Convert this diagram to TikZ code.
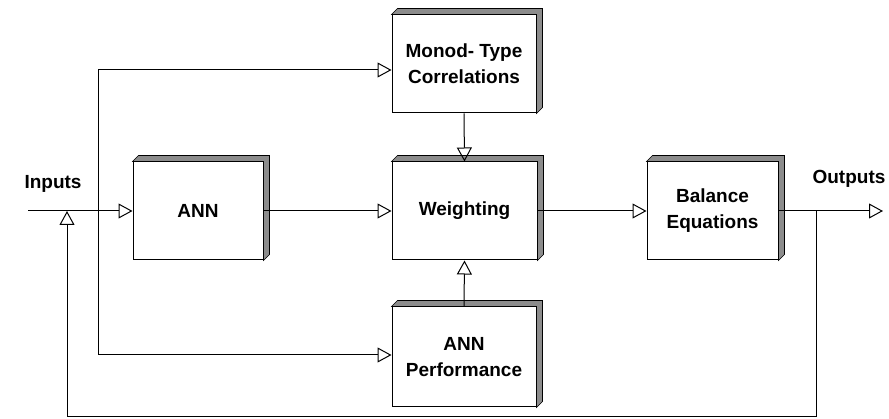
\documentclass[tikz,border=0pt]{standalone}
\usepackage{fontspec}
\setmainfont{Liberation Sans}
\usetikzlibrary{arrows.meta}

\begin{document}
\begin{tikzpicture}[x=1pt, y=-1pt, line width=1pt,
    every node/.style={font=\fontsize{19}{26}\selectfont\bfseries, align=center},
    block/.style={draw, fill=white, inner sep=0pt},
    depth/.style={draw, line width=0.6pt, fill=black!45},
    flow/.style={-{Triangle[open, length=14pt, width=15pt, line width=1pt]}}]
        \useasboundingbox (0,0) rectangle (889,419);
        % Define the blocks
        \node[block, minimum width=144, minimum height=98] (monod) at (464,64) {Monod- Type\\Correlations};
        \node[block, minimum width=130, minimum height=98] (ann) at (198,211) {ANN};
        \node[block, minimum width=145, minimum height=98] (weight) at (464.5,211) {Weighting};
        \node[block, minimum width=144, minimum height=100] (perf) at (464,357) {ANN\\Performance};
        \node[block, minimum width=131, minimum height=98] (bal) at (712.5,211) {Balance\\Equations};

        % 3D faces of the blocks
        \foreach \n in {monod,ann,weight,perf,bal} {
            \filldraw[depth] (\n.north west) -- ++(6,-6) -| ([shift={(6,-6)}]\n.south east)
                -- (\n.south east) -- (\n.north east) -- cycle;
        }

        % Labels and free ends
        \node (inputs) at (53,184) {Inputs};
        \node (outputs) at (849,179) {Outputs};
        \coordinate (in) at (28,211);
        \coordinate (out) at (883,211);
        \coordinate (top) at (98,70);
        \coordinate (bot) at (98,355);
        \coordinate (fbr) at (816,211);
        \coordinate (fbl) at (67,211);
        \coordinate (low) at (816,417);

        \draw[flow] (in) -- (ann.west);
        \draw (top) -- (bot);
        \draw[flow] (top) -- (top -| monod.west);
        \draw[flow] (bot) -- (bot -| perf.west);
        \draw[flow] (ann.east) -- (weight.west);
        \draw[flow] (monod.south) -- (weight.north);
        \draw[flow] (perf.north) -- (weight.south);
        \draw[flow] (weight.east) -- (bal.west);
        \draw[flow] (bal.east) -- (out);
        \draw[flow] (fbr) -- (low) -- (low -| fbl) -- (fbl);

    \end{tikzpicture}
\end{document}
